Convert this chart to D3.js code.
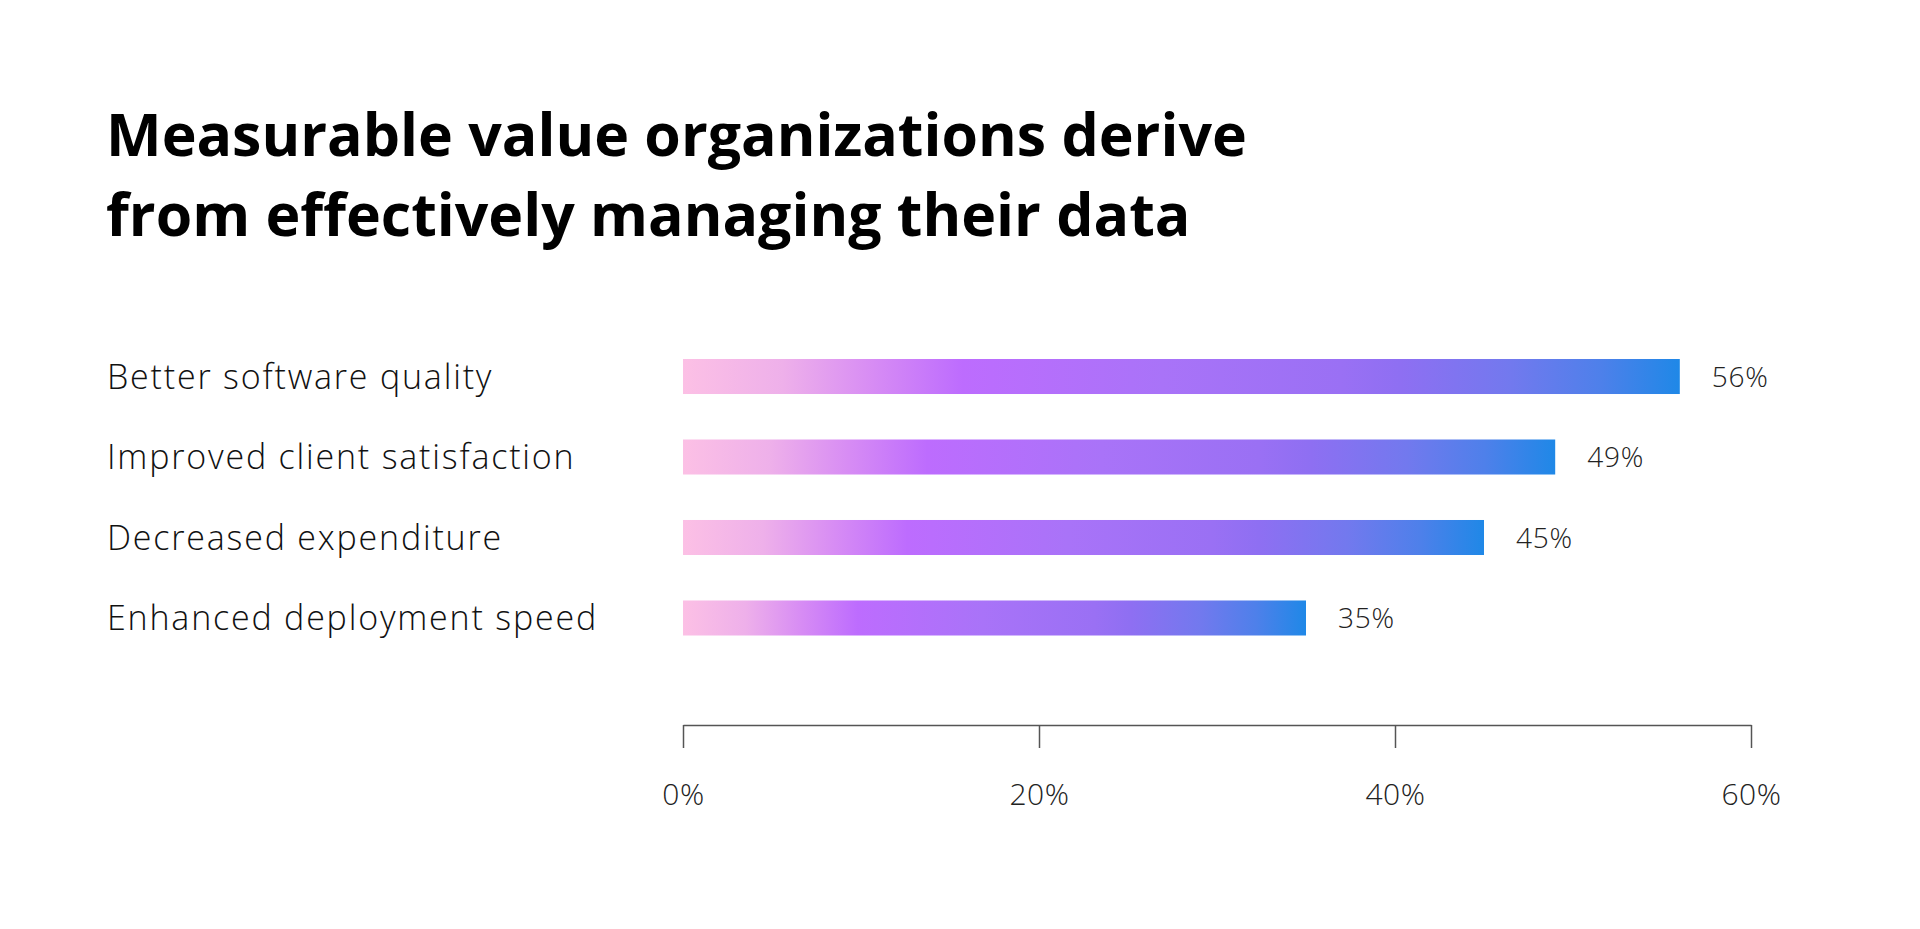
<!DOCTYPE html>
<html>
<head>
<meta charset="utf-8">
<script src="https://cdn.jsdelivr.net/npm/d3@7"></script>
<style>
    body { margin: 0; background: #fff; }
    svg { display: block; }
</style>
</head>
<body>
<div id="chart"></div>
<script>
// chart data
const titleLines = ["Measurable value organizations derive", "from effectively managing their data"];
const categories = ["Better software quality", "Improved client satisfaction", "Decreased expenditure", "Enhanced deployment speed"];
const values = [56, 49, 45, 35];
const tickValues = [0, 20, 40, 60];

const width = 1920, height = 929;
const font = "'Open Sans', sans-serif";

let svg = d3.select("#chart")
    .append("svg")
    .attr("width", width)
    .attr("height", height);

// gradient used by every bar (stretches with the bar)
let grad = svg.append("defs")
    .append("linearGradient")
    .attr("id", "barGrad")
    .attr("x1", "0%").attr("x2", "100%")
    .attr("y1", "0%").attr("y2", "0%");

[
    [0, "#fcc0e5"],
    [0.1, "#eeb0ea"],
    [0.19, "#d78cf4"],
    [0.28, "#bd6cfe"],
    [0.48, "#a973f8"],
    [0.66, "#9a70f4"],
    [0.72, "#8e6ff2"],
    [0.83, "#7279ee"],
    [0.92, "#4e80ea"],
    [1, "#1f88e7"]
].forEach(s => {
    grad.append("stop").attr("offset", s[0]).attr("stop-color", s[1]);
});

// title
svg.append("g")
    .selectAll("text")
    .data(titleLines)
    .enter()
    .append("text")
    .attr("x", 106)
    .attr("y", (d, i) => 156 + i * 80)
    .attr("font-family", font)
    .attr("font-weight", "bold")
    .attr("font-size", "59px")
    .attr("fill", "#000")
    .text(d => d);

// scales
let x = d3.scaleLinear()
    .domain([0, 60])
    .range([683, 1751]);

let y = d3.scaleBand()
    .domain(categories)
    .range([359, 635.5])
    .paddingInner(0.565)
    .paddingOuter(0);

// bars
svg.selectAll("rect.bar")
    .data(categories)
    .enter()
    .append("rect")
    .attr("class", "bar")
    .attr("x", x(0))
    .attr("y", d => y(d))
    .attr("width", (d, i) => x(values[i]) - x(0))
    .attr("height", y.bandwidth())
    .attr("fill", "url(#barGrad)");

// category labels
svg.selectAll("text.cat")
    .data(categories)
    .enter()
    .append("text")
    .attr("class", "cat")
    .attr("x", 107)
    .attr("y", d => y(d) + y.bandwidth() / 2)
    .attr("dy", "0.36em")
    .attr("font-family", font)
    .attr("font-weight", 300)
    .attr("font-size", "34px")
    .attr("letter-spacing", "1.8px")
    .attr("fill", "#111")
    .text(d => d);

// value labels
svg.selectAll("text.val")
    .data(categories)
    .enter()
    .append("text")
    .attr("class", "val")
    .attr("x", (d, i) => x(values[i]) + 32)
    .attr("y", d => y(d) + y.bandwidth() / 2)
    .attr("dy", "0.36em")
    .attr("font-family", font)
    .attr("font-weight", 300)
    .attr("font-size", "28px")
    .attr("letter-spacing", "0.8px")
    .attr("fill", "#222")
    .text((d, i) => values[i] + "%");

// x axis
let xAxis = d3.axisBottom(x)
    .tickValues(tickValues)
    .tickSize(23)
    .tickSizeOuter(0)
    .tickPadding(36)
    .tickFormat(d => d + "%");

let gx = svg.append("g")
    .attr("class", "x-axis")
    .attr("transform", "translate(0, 725)")
    .call(xAxis);

gx.select(".domain")
    .attr("stroke", "#555")
    .attr("stroke-width", 1.5);

gx.selectAll(".tick line")
    .attr("stroke", "#555")
    .attr("stroke-width", 1.5);

gx.selectAll(".tick text")
    .attr("font-family", font)
    .attr("font-weight", 300)
    .attr("font-size", "30px")
    .attr("letter-spacing", "0.6px")
    .attr("fill", "#222");
</script>
</body>
</html>
